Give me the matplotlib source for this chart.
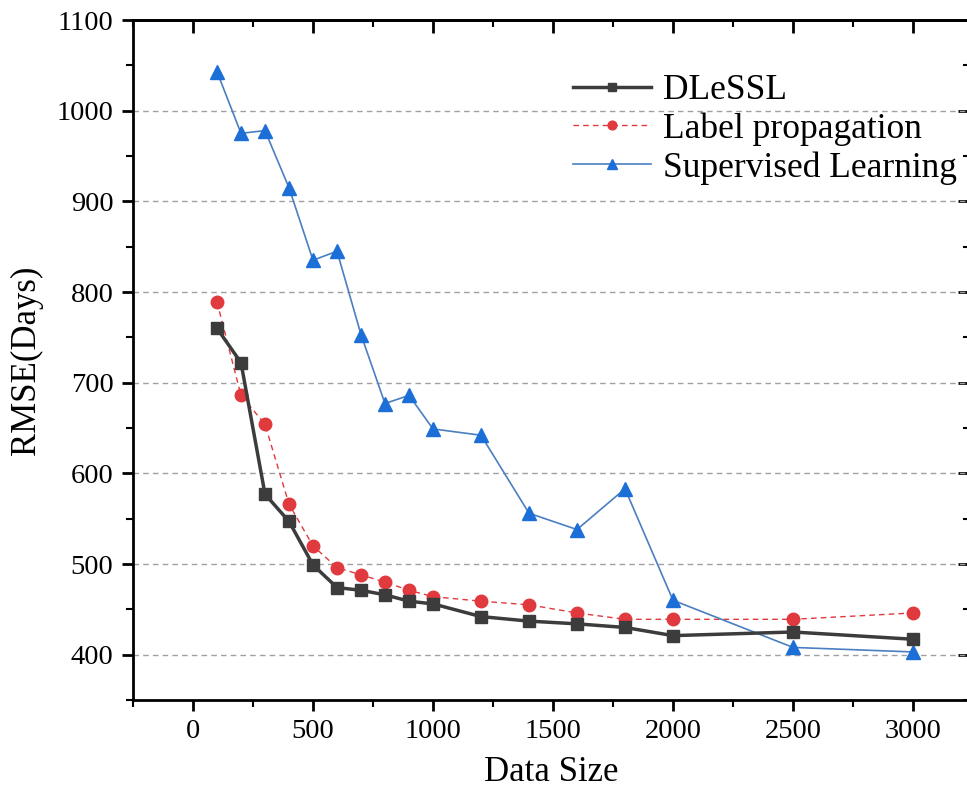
import numpy as np
import matplotlib
matplotlib.use("Agg")
import matplotlib.pyplot as plt
from matplotlib.ticker import MultipleLocator

plt.rcParams['font.family'] = ['Liberation Serif', 'DejaVu Serif']

# data
sizes = [100, 200, 300, 400, 500, 600, 700, 800, 900, 1000,
         1200, 1400, 1600, 1800, 2000, 2500, 3000]
dlessl = [760, 722, 577, 547, 499, 474, 471, 466, 459, 456,
          442, 437, 434, 430, 421, 425, 417]
label_prop = [789, 686, 654, 566, 520, 496, 488, 480, 471, 464,
              459, 455, 446, 439, 439, 439, 446]
supervised = [1043, 975, 978, 915, 835, 845, 753, 677, 686, 649,
              642, 556, 538, 583, 460, 408, 403]

fig = plt.figure(figsize=(9.67, 7.89), dpi=100)
ax = fig.add_axes([133/967, 1 - 700/789, 837/967, 680/789])

ax.plot(sizes, dlessl, color='#3c3c3c', lw=2.5, marker='s', ms=8,
        label='DLeSSL', zorder=4)
ax.plot(sizes, label_prop, color='#e0393e', lw=1, ls=(0, (4, 3)),
        marker='o', ms=9, mec='#e0393e', label='Label propagation', zorder=3)
ax.plot(sizes, supervised, color='#4a7fc0', lw=1.2, marker='^', ms=10,
        mfc='#1b6fd6', mec='#1b6fd6', label='Supervised Learning', zorder=3)

ax.set_xlim(-250, 3237.5)
ax.set_ylim(350, 1100)
ax.xaxis.set_major_locator(MultipleLocator(500))
ax.xaxis.set_minor_locator(MultipleLocator(250))
ax.yaxis.set_major_locator(MultipleLocator(100))
ax.yaxis.set_minor_locator(MultipleLocator(50))
ax.set_yticks(range(400, 1101, 100))

for y in range(400, 1001, 100):
    ax.axhline(y, color='#a0a0a0', lw=1, ls=(0, (4, 3)), zorder=1)

for s in ax.spines.values():
    s.set_linewidth(2)

ax.tick_params(which='major', direction='out', length=8, width=2,
               labelsize=20.5, pad=6)
ax.tick_params(which='minor', direction='out', length=5, width=1.5)

# top and right: inward ticks without labels
top = ax.secondary_xaxis('top')
top.xaxis.set_major_locator(MultipleLocator(500))
top.xaxis.set_minor_locator(MultipleLocator(250))
top.tick_params(which='major', direction='in', length=9, width=2, labeltop=False)
top.tick_params(which='minor', direction='in', length=5, width=1.5)
top.spines['top'].set_linewidth(2)
right = ax.secondary_yaxis('right')
right.yaxis.set_major_locator(MultipleLocator(100))
right.yaxis.set_minor_locator(MultipleLocator(50))
right.tick_params(which='major', direction='in', length=9, width=2, labelright=False)
right.tick_params(which='minor', direction='in', length=5, width=1.5)

ax.set_xlabel('Data Size', fontsize=25, labelpad=8)
ax.set_ylabel('RMSE(Days)', fontsize=25, labelpad=10)

ax.legend(loc='upper left', bbox_to_anchor=(573/967, 1 - 74/789),
          bbox_transform=fig.transFigure, frameon=False, fontsize=25.5,
          borderpad=0, borderaxespad=0, handlelength=2.2,
          handletextpad=0.35, labelspacing=0.15, markerscale=0.7)

fig.savefig('out.png', dpi=100)
